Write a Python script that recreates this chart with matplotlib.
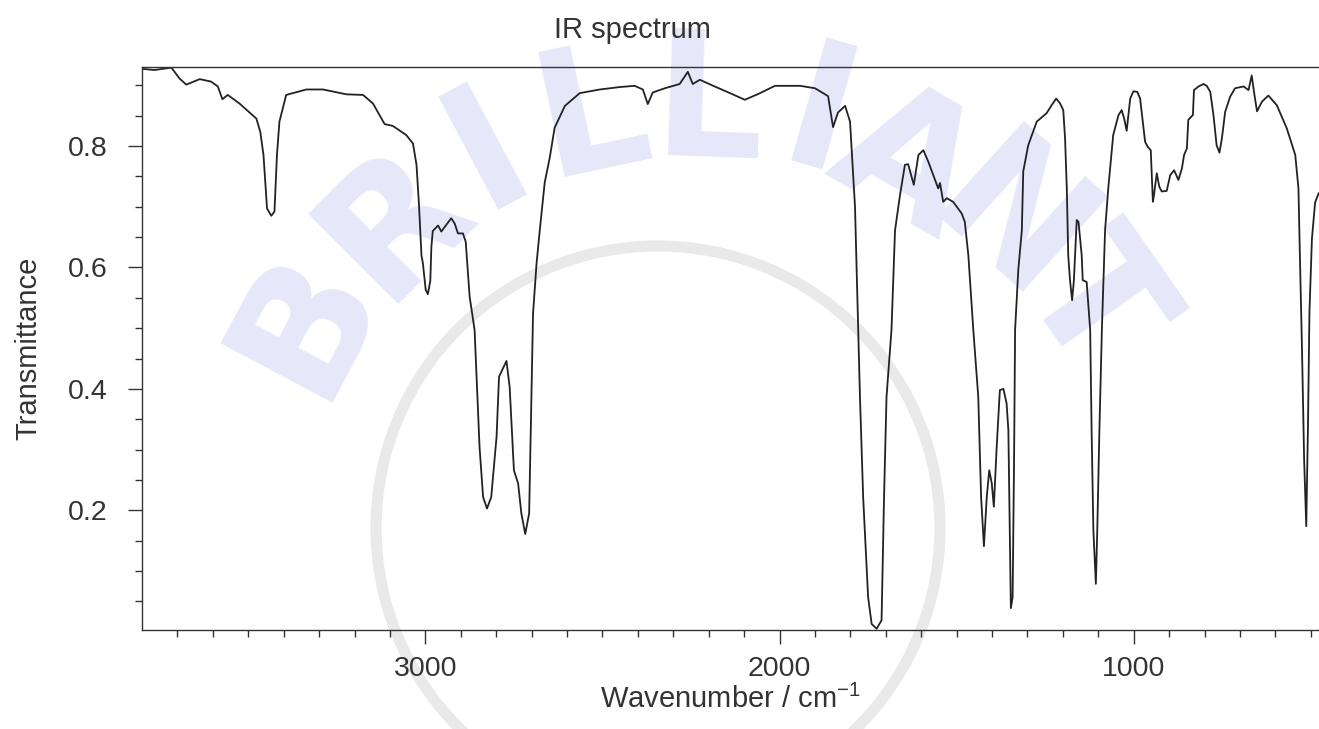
import numpy as np
import matplotlib
matplotlib.use('Agg')
import matplotlib.pyplot as plt
from matplotlib.patches import Circle

plt.rcParams['font.family'] = ['Liberation Sans', 'DejaVu Sans']
plt.rcParams['mathtext.fontset'] = 'custom'
plt.rcParams['mathtext.rm'] = 'Liberation Sans'

# spectrum (wavenumber in cm-1, transmittance)
wavenumber = [3800, 3765, 3717, 3694, 3675, 3637, 3605, 3586, 3573, 3558, 3525, 3477, 3466, 3457,
              3447, 3435, 3426, 3419, 3412, 3393, 3336, 3289, 3223, 3176, 3148, 3115, 3092, 3054,
              3035, 3025, 3018, 3011, 3007, 2999, 2993, 2986, 2983, 2979, 2964, 2955, 2927, 2917,
              2908, 2894, 2886, 2875, 2861, 2847, 2837, 2826, 2814, 2799, 2792, 2771, 2762, 2750,
              2738, 2729, 2718, 2707, 2696, 2686, 2677, 2663, 2649, 2635, 2606, 2564, 2507, 2451,
              2409, 2386, 2372, 2358, 2324, 2282, 2259, 2245, 2225, 2191, 2140, 2098, 2055, 2013,
              1942, 1900, 1863, 1849, 1835, 1815, 1801, 1787, 1773, 1764, 1750, 1740, 1726, 1712,
              1705, 1698, 1684, 1679, 1674, 1660, 1646, 1637, 1621, 1608, 1594, 1580, 1566, 1552,
              1547, 1538, 1528, 1510, 1486, 1477, 1467, 1453, 1439, 1431, 1423, 1415, 1408, 1401,
              1395, 1387, 1378, 1368, 1359, 1354, 1349, 1347, 1342, 1338, 1335, 1330, 1326, 1316,
              1312, 1298, 1274, 1246, 1232, 1219, 1208, 1199, 1194, 1189, 1185, 1180, 1174, 1169,
              1161, 1156, 1147, 1144, 1133, 1123, 1119, 1114, 1107, 1103, 1097, 1090, 1081, 1072,
              1058, 1043, 1034, 1027, 1020, 1010, 1001, 990, 982, 968, 961, 952, 946, 943, 935,
              928, 921, 907, 897, 886, 874, 864, 858, 850, 846, 833, 830, 817, 803, 794, 784, 775,
              766, 758, 751, 742, 728, 714, 690, 676, 667, 660, 652, 638, 620, 596, 568, 544, 535,
              532, 525, 519, 513, 508, 504, 497, 488, 478]
transmittance = [0.927, 0.925, 0.929, 0.911, 0.901, 0.910, 0.906, 0.898, 0.877, 0.884, 0.870, 0.845,
                 0.823, 0.785, 0.697, 0.685, 0.692, 0.785, 0.840, 0.884, 0.893, 0.893, 0.885, 0.884,
                 0.870, 0.836, 0.833, 0.818, 0.804, 0.769, 0.703, 0.620, 0.607, 0.563, 0.556, 0.578,
                 0.634, 0.660, 0.669, 0.659, 0.681, 0.672, 0.656, 0.656, 0.642, 0.552, 0.497, 0.304,
                 0.222, 0.203, 0.222, 0.321, 0.420, 0.446, 0.403, 0.266, 0.244, 0.195, 0.161, 0.195,
                 0.524, 0.607, 0.661, 0.740, 0.780, 0.830, 0.866, 0.887, 0.893, 0.897, 0.899, 0.893,
                 0.869, 0.888, 0.895, 0.902, 0.922, 0.902, 0.909, 0.900, 0.887, 0.876, 0.887, 0.899,
                 0.899, 0.895, 0.882, 0.831, 0.855, 0.866, 0.840, 0.700, 0.387, 0.222, 0.057, 0.013,
                 0.005, 0.019, 0.222, 0.387, 0.497, 0.579, 0.661, 0.719, 0.769, 0.770, 0.736, 0.785,
                 0.793, 0.774, 0.752, 0.730, 0.739, 0.708, 0.714, 0.708, 0.689, 0.675, 0.620, 0.497,
                 0.387, 0.222, 0.141, 0.222, 0.266, 0.245, 0.206, 0.304, 0.398, 0.400, 0.376, 0.332,
                 0.113, 0.039, 0.057, 0.277, 0.497, 0.552, 0.596, 0.661, 0.758, 0.801, 0.840, 0.854,
                 0.867, 0.878, 0.870, 0.859, 0.813, 0.730, 0.620, 0.579, 0.546, 0.579, 0.678, 0.675,
                 0.620, 0.579, 0.576, 0.497, 0.332, 0.167, 0.079, 0.167, 0.332, 0.497, 0.661, 0.730,
                 0.818, 0.851, 0.859, 0.845, 0.825, 0.878, 0.890, 0.889, 0.878, 0.807, 0.799, 0.793,
                 0.708, 0.719, 0.755, 0.733, 0.725, 0.726, 0.752, 0.760, 0.744, 0.763, 0.785, 0.796,
                 0.843, 0.851, 0.892, 0.898, 0.902, 0.899, 0.889, 0.851, 0.801, 0.789, 0.813, 0.856,
                 0.881, 0.895, 0.898, 0.892, 0.916, 0.887, 0.857, 0.873, 0.883, 0.867, 0.829, 0.785,
                 0.730, 0.647, 0.465, 0.284, 0.174, 0.344, 0.526, 0.647, 0.707, 0.722]

watermark_letters = list("BRILLIANT")

ink = '#333333'

fig = plt.figure(figsize=(13.19, 7.29), dpi=100)

# light watermark behind everything
wm = fig.add_axes([0, 0, 1, 1], zorder=0)
wm.set_xlim(0, 1319)
wm.set_ylim(729, 0)
wm.axis('off')
wm.add_patch(Circle((658, 528), 282, fill=False, lw=8, ec='#e9e9e9'))
letter_pos = [(305, 322, 62), (395, 222, 45), (488, 152, 28), (592, 118, 12), (708, 108, -2),
              (818, 122, -16), (905, 165, -30), (1008, 228, -42), (1090, 305, -55)]
for ch, (lx, ly, rot) in zip(watermark_letters, letter_pos):
    wm.text(lx, ly, ch, fontsize=125, fontweight='bold', color='#e6e8fa',
            ha='center', va='center', rotation=rot, family='DejaVu Sans')

ax = fig.add_axes([142 / 1319, 1 - 630 / 729, 1 - 142 / 1319, (630 - 67) / 729], zorder=1)
ax.patch.set_alpha(0)
ax.plot(wavenumber, transmittance, color='#222222', lw=1.3)
ax.set_xlim(3800, 477)
ax.set_ylim(0.003, 0.930)

ax.set_xticks([3000, 2000, 1000])
ax.set_xticks(np.arange(3700, 499, -100), minor=True)
ax.set_yticks([0.2, 0.4, 0.6, 0.8])
ax.set_yticks(np.arange(0.05, 0.93, 0.05), minor=True)
ax.tick_params(which='major', length=10, width=1, color=ink, labelsize=20.5, labelcolor=ink)
ax.tick_params(which='minor', length=5, width=1, color=ink)
ax.tick_params(axis='x', pad=9)
ax.tick_params(axis='y', pad=15)
for side in ['left', 'bottom', 'top']:
    ax.spines[side].set_color(ink)
    ax.spines[side].set_linewidth(1)
ax.spines['right'].set_visible(False)

ax.set_xlabel(r'Wavenumber / cm$^{\mathrm{-1}}$', fontsize=21, color=ink, labelpad=2)
ax.set_ylabel('Transmittance', fontsize=21, color=ink, labelpad=18)
fig.text(632 / 1319, 1 - 30 / 729, 'IR spectrum', fontsize=21, color=ink, ha='center', va='center')

fig.savefig('out.png', dpi=100)
